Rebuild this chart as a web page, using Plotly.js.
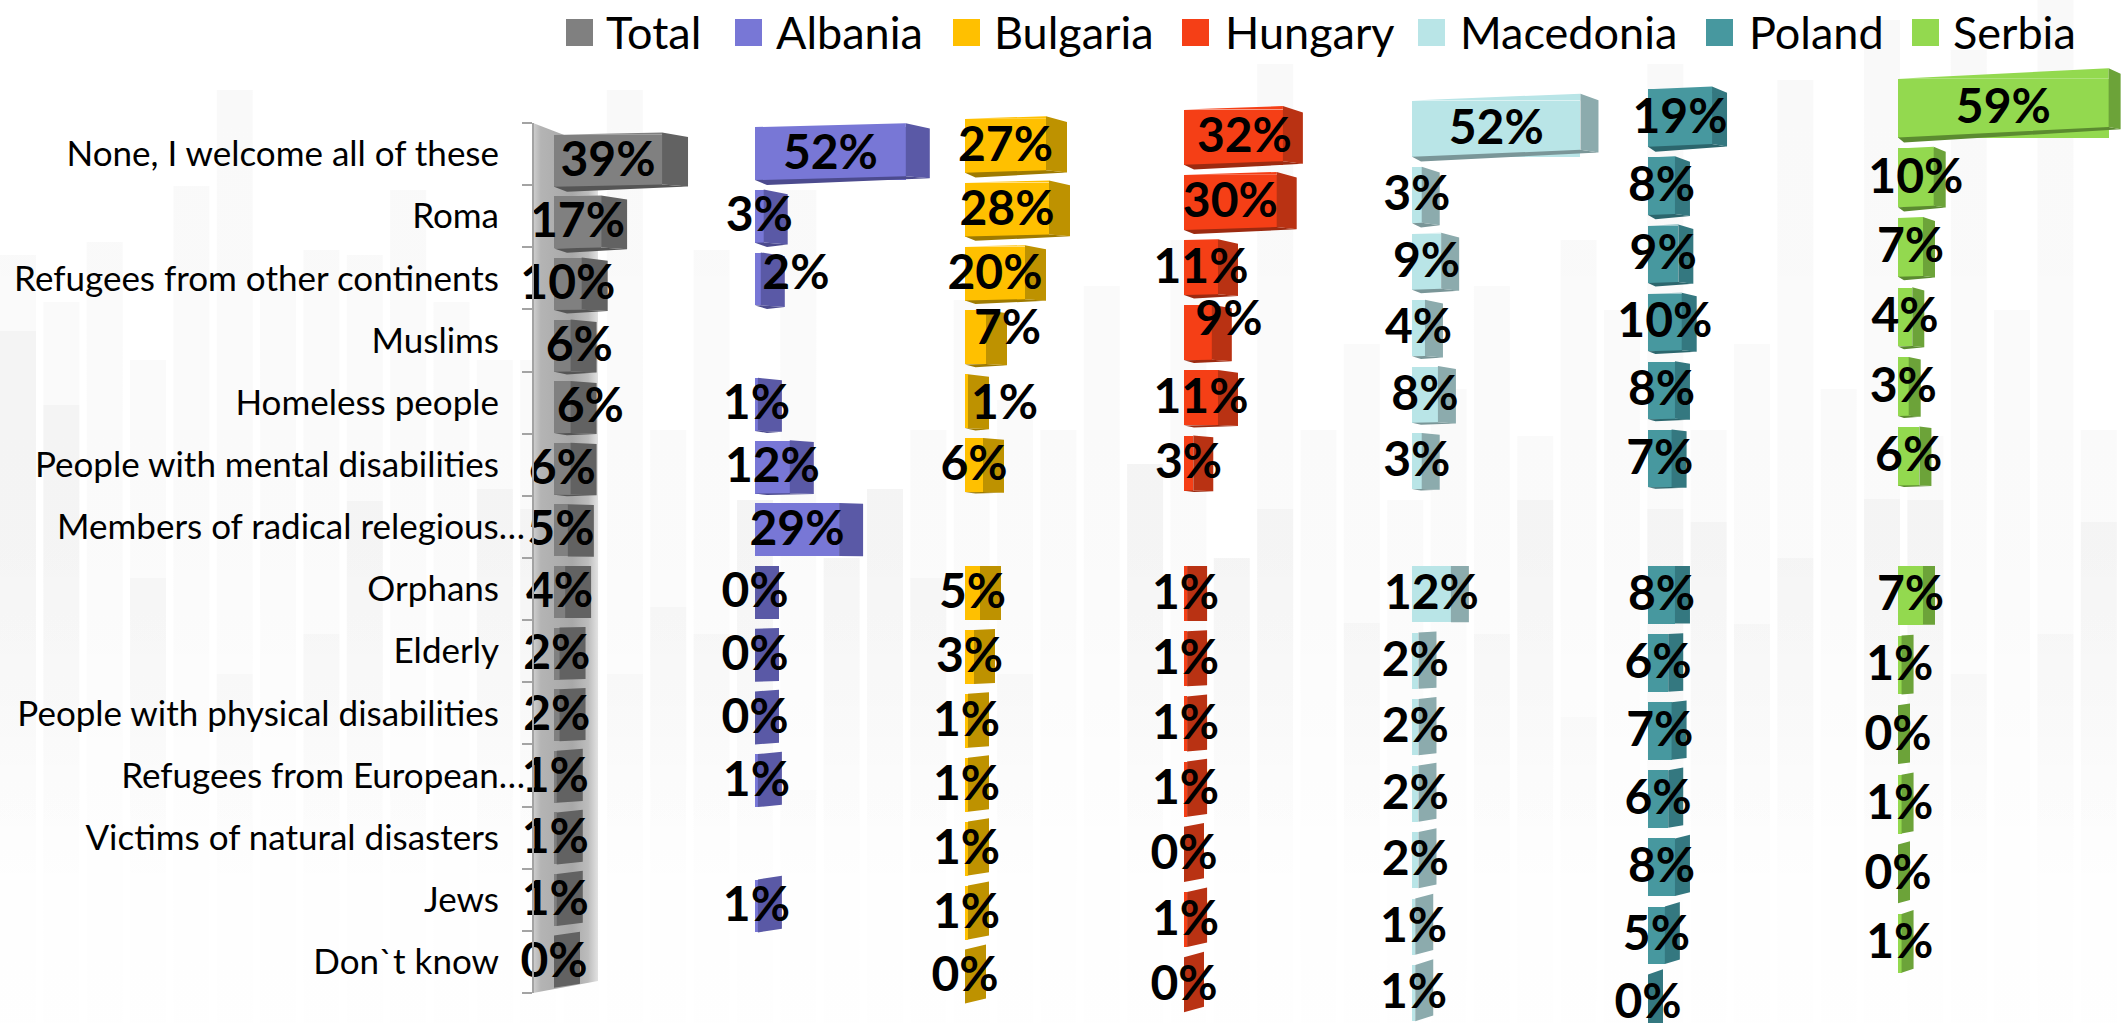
<!DOCTYPE html>
<html><head><meta charset="utf-8">
<script src="https://cdn.plot.ly/plotly-3.0.1.min.js"></script>
<style>html,body{margin:0;padding:0;background:#fff}</style></head>
<body><div id="chart" style="width:2121px;height:1023px"></div>
<script>
const categories = ["None, I welcome all of these","Roma","Refugees from other continents","Muslims","Homeless people","People with mental disabilities","Members of radical relegious…","Orphans","Elderly","People with physical disabilities","Refugees from European…","Victims of natural disasters","Jews","Don`t know"];
const seriesNames = ["Total","Albania","Bulgaria","Hungary","Macedonia","Poland","Serbia"];
const total     = [39,17,10,6,6,6,5,4,2,2,1,1,1,0];
const albania   = [52,3,2,null,1,12,29,0,0,0,1,null,1,null];
const bulgaria  = [27,28,20,7,1,6,null,5,3,1,1,1,1,0];
const hungary   = [32,30,11,9,11,3,null,1,1,1,1,0,1,0];
const macedonia = [52,3,9,4,8,3,null,12,2,2,2,2,1,1];
const poland    = [19,8,9,10,8,7,null,8,6,7,6,8,5,0];
const serbia    = [59,10,7,4,3,6,null,7,1,0,1,0,1,null];
const allSeries = [total,albania,bulgaria,hungary,macedonia,poland,serbia];

// pale decorative columns of the backdrop: where each one starts
const backdropUpper = [255,302,242,360,186,90,277,250,255,190,302,360,360,500,90,430,250,500,190,558,489,430,300,400,430,286,464,240,558,64,430,344,500,389,286,436,240,310,64,430,344,80,389,20,436,50,310,0,430];
const backdropLower = [331,405,null,578,null,674,null,634,501,790,null,489,509,null,674,607,634,500,790,558,489,578,null,674,null,null,464,null,558,509,null,623,null,null,634,500,717,null,509,522,624,558,null,499,500,674,null,634,522];

// look of each panel
const frontColor = ["#808080","#7877D6","#FFC000","#F53F16","#B9E5E7","#47989F","#93D94F"];
const sideColor  = ["#626262","#5A59A6","#BE9200","#B93213","#8CABAD","#347880","#6CA339"];
const lipColor   = ["#555555","#4C4B8E","#9E7A00","#9C2A10","#7A9698","#2C666D","#5B8B30"];
const panelLeft  = [554,755,965,1184,1412,1648,1898];
const pxPerPct   = [2.77,2.9,3.0,3.09,3.24,3.37,3.57];
const depthPx    = [26,24,21,20,18,15,12];
const rowPitch   = [61.6,62.7,63.9,65.2,66.5,68.1,69.6];
const labelNudge = {0:{3:[17,0],4:[28,0]},1:{2:[38,-5]},2:{3:[32,-8],4:[38,3]},3:{0:[11,0],3:[31,-13]}};
const legendSwatchX = [566,735,953,1182,1418,1706,1912];
const legendTextX   = [605,775,993,1224,1459,1748,1952];

const W=2121,H=1023,barFrac=0.845,flatRow=7,flatTop=566,labelDrop=3;
const traces=[]; const layout={
  width:W,height:H,margin:{l:0,r:0,t:0,b:0},paper_bgcolor:"#fff",plot_bgcolor:"rgba(0,0,0,0)",
  showlegend:false,hovermode:false,shapes:[],annotations:[],font:{family:"Lato",color:"#000"},
  bargap:0,barmode:"overlay"
};
const hidden=o=>Object.assign({visible:false,domain:[0,1],fixedrange:true},o);

// backdrop on subplot 1
const colPx=x=>(x-18)/43.35;
layout.xaxis=hidden({range:[colPx(0),colPx(W)]});
layout.yaxis=hidden({range:[H,0]});
function backdrop(tops,scale){
  const x=[],y=[];
  tops.forEach((t,i)=>{ if(t===null)return;
    x.push(i-.415,i+.415,i+.415,i-.415,i-.415,null);
    y.push(t,t,H,H,t,null);});
  traces.push({type:"scatter",mode:"lines",x,y,xaxis:"x",yaxis:"y",line:{width:0},fill:"toself",hoverinfo:"skip",
    fillgradient:{type:"vertical",start:0,stop:H,colorscale:scale}});
}
backdrop(backdropUpper,[[0,"rgba(0,0,0,0.025)"],[.55,"rgba(0,0,0,0.018)"],[.8,"rgba(0,0,0,0.006)"],[1,"rgba(0,0,0,0.003)"]]);
backdrop(backdropLower,[[0,"rgba(0,0,0,0.026)"],[.5,"rgba(0,0,0,0.026)"],[.72,"rgba(0,0,0,0.012)"],[.88,"rgba(0,0,0,0)"],[1,"rgba(0,0,0,0)"]]);

// axis wall (behind the bars)
traces.push({type:"scatter",mode:"lines",xaxis:"x",yaxis:"y",hoverinfo:"skip",line:{width:0},fill:"toself",
  x:[533,598,598,533,533].map(colPx),
  y:[123,148,981,993,123],
  fillgradient:{type:"horizontal",start:colPx(533),stop:colPx(598),colorscale:[[0,"#cfcfcf"],[.12,"#b4b4b4"],[.6,"#a8a8a8"],[.85,"#bdbdbd"],[1,"#e2e2e2"]]}});

// category axis: row boundaries run 123..993 px
const rowIdx=categories.map((_,i)=>i);
const shortRows=[6,10];
const labelRows=rowIdx.filter(r=>!shortRows.includes(r));
const labelAxis=(rows,standoff,extra)=>Object.assign({domain:[(H-993)/H,(H-123)/H],range:[13.5,-.5],anchor:"free",position:533/W,side:"left",
  tickmode:"array",tickvals:rows,ticktext:rows.map(r=>categories[r]),ticks:"",ticklen:0,ticklabelstandoff:standoff,
  tickfont:{family:"Lato",size:35,color:"#000"},showgrid:false,zeroline:false,fixedrange:true,automargin:false},extra||{});
layout.yaxis9=labelAxis(labelRows,26,{showline:true,linecolor:"#a3a3a3",linewidth:2,
  minor:{ticks:"outside",ticklen:10,tickwidth:2,tickcolor:"#a3a3a3",tickmode:"array",tickvals:categories.map((_,i)=>i-.5).concat([13.5])}});
layout.yaxis10=labelAxis(shortRows,8);
traces.push({type:"scatter",mode:"markers",xaxis:"x2",yaxis:"y9",x:[null],y:[null],hoverinfo:"skip"});
traces.push({type:"scatter",mode:"markers",xaxis:"x2",yaxis:"y10",x:[null],y:[null],hoverinfo:"skip"});

allSeries.forEach((vals,p)=>{
  const n=p+2, xa="x"+n, ya="y"+n;
  const g=pxPerPct[p],left=panelLeft[p],pitch=rowPitch[p],d=depthPx[p];
  const c7=flatTop+barFrac*pitch/2;
  layout["xaxis"+n]=hidden({range:[-left/g,(W-left)/g],anchor:ya});
  layout["yaxis"+n]=hidden({range:[flatRow+(H-c7)/pitch,flatRow-c7/pitch],anchor:xa});
  const half=barFrac/2;
  const rows=rowIdx.filter(r=>vals[r]!==null);
  // value bars (front faces)
  traces.push({type:"bar",orientation:"h",name:seriesNames[p],xaxis:xa,yaxis:ya,
    x:rows.map(r=>vals[r]),y:rows,width:barFrac,base:0,marker:{color:frontColor[p],line:{width:0}},hoverinfo:"skip"});
  const top={x:[],y:[]},lip={x:[],y:[]},side={x:[],y:[]};
  const add=(o,pts)=>{pts.concat([pts[0]]).forEach(q=>{o.x.push(q[0]);o.y.push(q[1]);});o.x.push(null);o.y.push(null);};
  const k=.025+.007*p;
  const fBase=.003+.0007*p;
  rows.forEach(r=>{
    const v=vals[r],ty=r-half,by=r+half,dx=d/g;
    const s=k*(flatRow-r);
    const f=r<flatRow?fBase*(flatRow-r):0;
    const rise=f*v*g/pitch;
    const sT=s*d/pitch, sB=(r<flatRow?s*.4:s)*d/pitch;
    if(rise>0) add(top,[[0,ty],[v,ty-rise],[v,ty]]);
    if(r<flatRow){
      const t=.7*(flatRow-r)/pitch;
      add(lip,[[0,by],[v,by-rise],[v+dx,by-rise+sB],[dx*.5,by+t]]);
    }
    add(side,[[v,ty-rise],[v+dx,ty-rise+sT],[v+dx,by-rise+sB],[v,by-rise]]);
  });
  const poly=(o,color)=>traces.push({type:"scatter",mode:"lines",xaxis:xa,yaxis:ya,x:o.x,y:o.y,line:{width:0},fill:"toself",fillcolor:color,hoverinfo:"skip"});
  poly(top,frontColor[p]); poly(lip,lipColor[p]); poly(side,sideColor[p]);
  // value labels
  const nudge=labelNudge[p]||{};
  traces.push({type:"scatter",mode:"text",xaxis:xa,yaxis:ya,hoverinfo:"skip",cliponaxis:false,
    x:rows.map(r=>vals[r]/2+((nudge[r]||[0,0])[0])/g),
    y:rows.map(r=>r+(((nudge[r]||[0,0])[1])+labelDrop)/pitch),
    text:rows.map(r=>vals[r]+"%"),textposition:"middle center",
    textfont:{family:"Lato",size:48,weight:700,color:"#000"}});
  // legend entry
  layout.shapes.push({type:"rect",xref:"paper",yref:"paper",x0:legendSwatchX[p]/W,x1:(legendSwatchX[p]+27)/W,y0:1-46/H,y1:1-19/H,fillcolor:frontColor[p],line:{width:0},layer:"above"});
  layout.annotations.push({xref:"paper",yref:"paper",x:legendTextX[p]/W,y:1-32/H,xanchor:"left",yanchor:"middle",showarrow:false,text:seriesNames[p],font:{family:"Lato",size:45,color:"#000"},borderpad:0});
});
Plotly.newPlot("chart",traces,layout,{displayModeBar:false,staticPlot:true});
</script></body></html>
